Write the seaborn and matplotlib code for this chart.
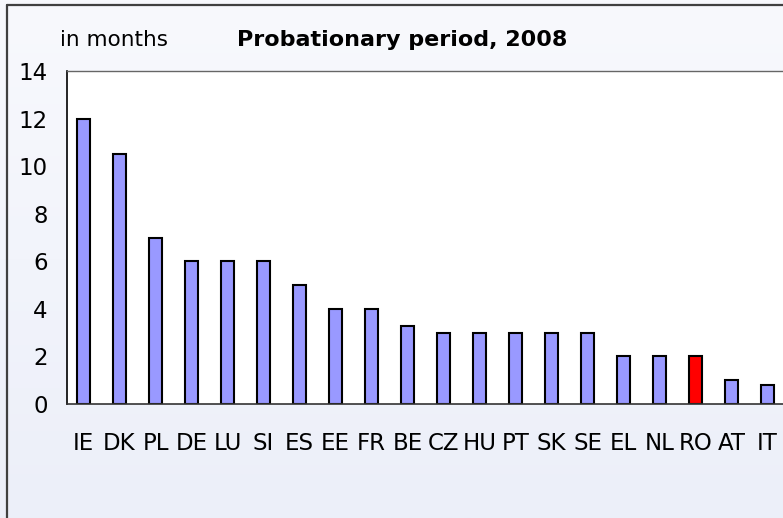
import seaborn as sns
import matplotlib.pyplot as plt
import numpy as np
import pandas as pd
from matplotlib.lines import Line2D
from matplotlib.colors import LinearSegmentedColormap

countries = ['IE', 'DK', 'PL', 'DE', 'LU', 'SI', 'ES', 'EE', 'FR', 'BE',
             'CZ', 'HU', 'PT', 'SK', 'SE', 'EL', 'NL', 'RO', 'AT', 'IT']
months = [12, 10.5, 7, 6, 6, 6, 5, 4, 4, 3.3,
          3, 3, 3, 3, 3, 2, 2, 2, 1, 0.8]
highlight = 'RO'

bar_blue = '#9999FF'
bar_red = '#FF0000'
bg = '#EEF1F9'

df = pd.DataFrame({'country': countries, 'months': months})
pal = {c: (bar_red if c == highlight else bar_blue) for c in countries}

sns.set_style('white')
plt.rcParams['text.color'] = 'black'
plt.rcParams['xtick.color'] = 'black'
plt.rcParams['ytick.color'] = 'black'

fig = plt.figure(figsize=(7.83, 5.18), dpi=100, facecolor=bg)

# soft vertical gradient behind everything
bg_ax = fig.add_axes([0, 0, 1, 1], zorder=-10)
cmap = LinearSegmentedColormap.from_list('bgg', ['#ECEFF9', '#F8F9FD'])
bg_ax.imshow(np.linspace(0, 1, 256).reshape(-1, 1), aspect='auto', cmap=cmap,
             origin='lower', extent=[0, 1, 0, 1])
bg_ax.axis('off')

ax = fig.add_axes([67 / 783, 1 - 404 / 518, 1 - 67 / 783, (404 - 71) / 518])
ax.set_facecolor('white')

sns.barplot(data=df, x='country', y='months', hue='country', palette=pal,
            saturation=1, width=0.37, edgecolor='black', linewidth=1.5,
            legend=False, ax=ax)

ax.set_xlim(-0.46, 19.43)
ax.set_ylim(0, 14)
ax.set_yticks(range(0, 15, 2))
ax.set_xlabel('')
ax.set_ylabel('')
ax.tick_params(axis='y', length=0, pad=14, labelsize=16.5)
ax.tick_params(axis='x', length=0, pad=20, labelsize=16.5)

ax.spines['right'].set_visible(False)
ax.spines['left'].set_color('black')
ax.spines['bottom'].set_color('#333333')
ax.spines['top'].set_color('#666666')
ax.spines['left'].set_linewidth(1.2)
ax.spines['bottom'].set_linewidth(1.2)
ax.spines['top'].set_linewidth(1.0)

fig.text(60 / 783, 1 - 40 / 518, 'in months', fontsize=15.5, va='center', ha='left')
fig.text(402 / 783, 1 - 40 / 518, 'Probationary period, 2008', fontsize=16,
         fontweight='bold', va='center', ha='center')

# outer frame (left and top edges visible)
fig.add_artist(Line2D([7 / 783, 7 / 783], [0, 1 - 5 / 518], color='#404040', lw=1.6,
                      transform=fig.transFigure))
fig.add_artist(Line2D([7 / 783, 1], [1 - 5 / 518, 1 - 5 / 518], color='#404040', lw=1.6,
                      transform=fig.transFigure))

plt.savefig('out.png', dpi=100, facecolor=bg)
